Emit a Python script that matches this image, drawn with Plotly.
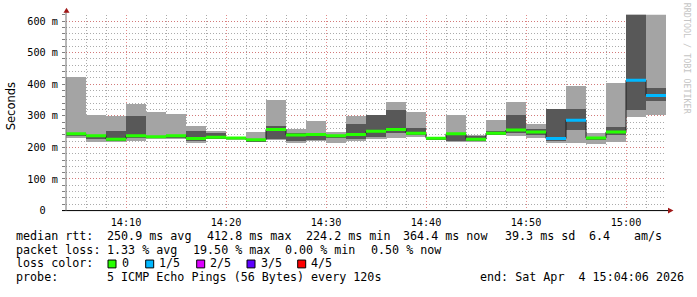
import plotly.graph_objects as go
import pandas as pd

# ---------------- data (ms) ----------------
bin_start = pd.date_range('2026-04-04 14:04:00', periods=30, freq='120s')
bin_end = pd.Timestamp('2026-04-04 15:04:00')

ping_min = [230, 219, 219, 222, 229, 227, 215, 226, 224, 219,
            224, 214, 222, 214, 220, 229, 230, 235, 226, 218,
            219, 239, 237, 230, 215, 214, 212, 218, 298, 305]
ping_q1 = [236, 227, 222, 232, 231, 231, 222, 228, 228, 221,
           226, 220, 225, 232, 229, 235, 245, 239, 227, 220,
           222, 241, 247, 240, 222, 255, 224, 239, 320, 348]
median = [243, 237, 226, 237, 234, 237, 228, 232, 230, 224.2,
          257, 239, 241, 237, 241, 251, 257, 245, 229, 243,
          226, 245, 255, 249, 228, 286, 230, 249, 412.8, 364.4]
ping_q3 = [245, 241, 254, 301, 237, 241, 254, 246, 233, 227,
           269, 248, 245, 240, 276, 302, 319, 263, 232, 245,
           238, 254, 303, 260, 322, 322, 234, 267, 760, 390]
ping_max = [424, 303, 300, 338, 313, 307, 269, 254, 235, 251,
            351, 260, 286, 251, 300, 303, 344, 313, 234, 304,
            241, 288, 344, 274, 323, 394, 248, 406, 800, 760]
loss = [0, 0, 0, 0, 0, 0, 0, 0, 0, 0,
        0, 0, 0, 0, 0, 0, 0, 0, 0, 0,
        0, 0, 0, 0, 1, 1, 0, 0, 1, 1]

loss_labels = ['0', '1/5', '2/5', '3/5', '4/5']
loss_colors = ['#26ff00', '#00b8ff', '#dd00ff', '#5e00ff', '#ff0000']

y_tick_vals = [0, 100, 200, 300, 400, 500, 600]
y_tick_text = ['0\u00a0\u00a0', '100 m', '200 m', '300 m', '400 m', '500 m', '600 m']

legend_line1 = ['median rtt:', '250.9 ms avg', '412.8 ms max', '224.2 ms min',
                '364.4 ms now', '39.3 ms sd', '6.4', 'am/s']
legend_line2 = ['packet loss:', '1.33 % avg', '19.50 % max', '0.00 % min', '0.50 % now']
probe_text = ['probe:', '5 ICMP Echo Pings (56 Bytes) every 120s', 'end: Sat Apr  4 15:04:06 2026']

# ---------------- geometry (pixels) ----------------
W, H = 697, 292
X0, X1, YT, YB = 66, 666, 15, 215


def px(x):
    return x / W


def py(y):
    return 1 - y / H


MONO = 'DejaVu Sans Mono'
fig = go.Figure()

step_ms = 120000
fig.add_trace(go.Bar(x=bin_start, base=ping_min,
                     y=[b - a for a, b in zip(ping_min, ping_max)],
                     width=step_ms, offset=0, marker_color='#a4a4a4',
                     marker_line_width=0, showlegend=False, hoverinfo='skip'))
fig.add_trace(go.Bar(x=bin_start, base=ping_q1,
                     y=[b - a for a, b in zip(ping_q1, ping_q3)],
                     width=step_ms, offset=0, marker_color='#585858',
                     marker_line_width=0, showlegend=False, hoverinfo='skip'))

# black median step line
fig.add_trace(go.Scatter(x=list(bin_start) + [bin_end], y=median + [median[-1]],
                         mode='lines', line=dict(color='#202020', width=1, shape='hv'),
                         showlegend=False, hoverinfo='skip'))

# coloured median segments by loss
for lvl, col in enumerate(loss_colors):
    xs, ys = [], []
    for i, l in enumerate(loss):
        if l == lvl:
            e = bin_start[i + 1] if i + 1 < len(bin_start) else bin_end
            xs += [bin_start[i], e, None]
            ys += [median[i], median[i], None]
    if xs:
        fig.add_trace(go.Scatter(x=xs, y=ys, mode='lines',
                                 line=dict(color=col, width=3),
                                 showlegend=False, hoverinfo='skip'))

major_grid = 'rgba(220,110,110,0.8)'
minor_grid = 'rgba(150,150,150,0.8)'
DOT = '1px,2px'

fig.update_layout(
    width=W, height=H, autosize=False, margin=dict(l=0, r=0, t=0, b=0, pad=0),
    paper_bgcolor='white', plot_bgcolor='white',
    barmode='overlay', bargap=0, showlegend=False,
    xaxis=dict(domain=[px(X0), px(X1)], type='date',
               range=[bin_start[0], bin_end],
               tick0='2026-04-04 14:10:00', dtick=600000, tickformat='%H:%M',
               showgrid=True, gridcolor=major_grid, griddash=DOT, gridwidth=1,
               minor=dict(tick0='2026-04-04 14:04:00', dtick=120000, showgrid=True,
                          gridcolor=minor_grid, griddash=DOT, gridwidth=1),
               showline=False, zeroline=False, ticks='',
               tickfont=dict(family=MONO, size=10.2, color='black'),
               ticklabelstandoff=4),
    yaxis=dict(domain=[py(YB), py(YT)], range=[0, 620],
               tickmode='array', tickvals=y_tick_vals, ticktext=y_tick_text,
               showgrid=True, gridcolor=major_grid, griddash=DOT, gridwidth=1,
               minor=dict(tickmode='linear', tick0=0, dtick=20, showgrid=True,
                          gridcolor=minor_grid, griddash=DOT, gridwidth=1,
                          ticks='outside', ticklen=3, tickcolor='#808080'),
               ticks='outside', ticklen=3, tickcolor='#808080',
               showline=False, zeroline=False,
               tickfont=dict(family=MONO, size=10.2, color='black'),
               ticklabelstandoff=2),
)

shapes = [
    dict(type='line', xref='paper', yref='paper', x0=px(62), x1=px(669),
         y0=py(YB), y1=py(YB), line=dict(color='black', width=1)),
    dict(type='line', xref='paper', yref='paper', x0=px(X0), x1=px(X0),
         y0=py(YB), y1=py(12), line=dict(color='#707070', width=1)),
    dict(type='path', xref='paper', yref='paper',
         path=f'M {px(66.5)},{py(8)} L {px(63.5)},{py(13)} L {px(69.5)},{py(13)} Z',
         fillcolor='#a01818', line=dict(width=0)),
    dict(type='path', xref='paper', yref='paper',
         path=f'M {px(673.5)},{py(215)} L {px(668)},{py(212)} L {px(668)},{py(218)} Z',
         fillcolor='#a01818', line=dict(width=0)),
]

# loss colour boxes
box_x = [108, 145.7, 196.7, 247, 297.7]
for bx, col in zip(box_x, loss_colors):
    shapes.append(dict(type='rect', xref='paper', yref='paper',
                       x0=px(bx), x1=px(bx + 8), y0=py(273.5), y1=py(265.5),
                       fillcolor=col, line=dict(color='black', width=1)))
fig.update_layout(shapes=shapes)

ann = []


def txt(x, y, s, anchor='left', size=11.7, family=MONO, color='black', angle=0):
    ann.append(dict(x=px(x), y=py(y), xref='paper', yref='paper',
                    text=s.replace(' ', '\u00a0'), showarrow=False,
                    xanchor=anchor, yanchor='middle', borderpad=0, borderwidth=0,
                    textangle=angle, font=dict(family=family, size=size, color=color)))


line1_x = [16, 107.3, 206.7, 305.5, 403, 505, 589, 633.5]
for x, s in zip(line1_x, legend_line1):
    txt(x, 241, s)
line2_x = [16, 107.3, 193.3, 284.5, 371]
for x, s in zip(line2_x, legend_line2):
    txt(x, 255, s)
txt(16, 269, 'loss color:')
for bx, lab in zip(box_x, loss_labels):
    txt(bx + 13.5, 269, lab)
txt(16, 282.5, probe_text[0])
txt(107.3, 282.5, probe_text[1])
txt(684, 282.5, probe_text[2], anchor='right')

# axis title and watermark
ann.append(dict(x=px(10.5), y=py(109), xref='paper', yref='paper', text='Seconds',
                showarrow=False, textangle=-90, xanchor='center', yanchor='middle',
                font=dict(family='DejaVu Sans', size=11.5, color='black')))
ann.append(dict(x=px(687), y=py(60), xref='paper', yref='paper',
                text='RRDTOOL\u00a0/\u00a0TOBI\u00a0OETIKER',
                showarrow=False, textangle=90, xanchor='center', yanchor='middle',
                font=dict(family=MONO, size=8.4, color='#c4c4c4')))
fig.update_layout(annotations=ann)

fig.write_html('out.html', config={'responsive': False})
